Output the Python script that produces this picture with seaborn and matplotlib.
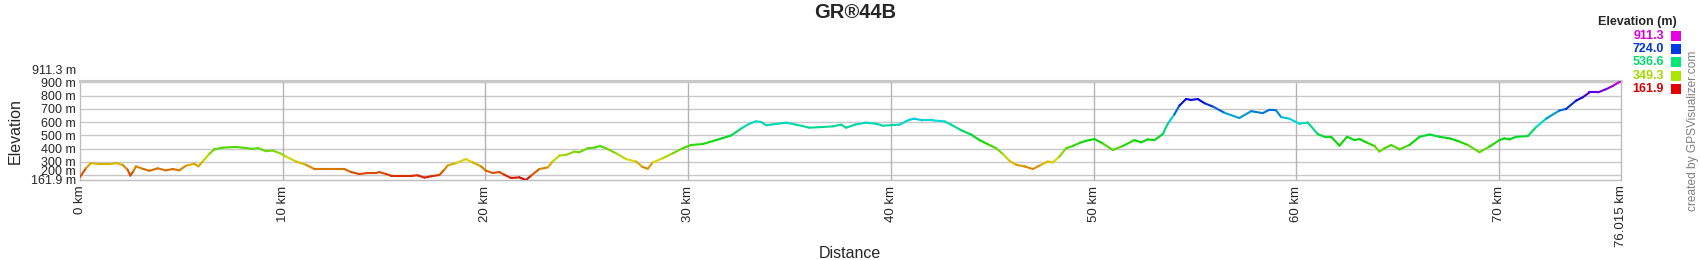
import numpy as np
import pandas as pd
import seaborn as sns
import matplotlib
matplotlib.use("Agg")
import matplotlib.pyplot as plt
from matplotlib.colors import hsv_to_rgb
from matplotlib.transforms import ScaledTranslation
from matplotlib.patches import Rectangle

# ---------------- data ----------------
title = "GR®44B"
distance_km = [0, 0.30, 0.54, 0.95, 1.45, 1.78, 2.1, 2.35, 2.48, 2.63, 2.76, 3.09, 3.42, 3.83, 4.24,
               4.57, 4.9, 5.23, 5.64, 5.84, 6.05, 6.38, 6.63, 7.04, 7.70, 8.19, 8.52, 8.77, 9.18, 9.51,
               9.87, 10.16, 10.66, 11.15, 11.56, 12.14, 13.04, 13.37, 13.78, 14.19, 14.6, 14.77, 15.1,
               15.34, 15.92, 16.41, 16.66, 16.99, 17.32, 17.73, 17.97, 18.14, 18.55, 19.04, 19.37,
               19.78, 20.03, 20.36, 20.69, 20.93, 21.26, 21.67, 22.0, 22.25, 22.66, 23.07, 23.32,
               23.65, 23.98, 24.39, 24.63, 25.05, 25.38, 25.65, 25.95, 26.44, 26.94, 27.43, 27.76,
               28.01, 28.25, 28.75, 29.24, 29.73, 30.14, 30.72, 31.38, 32.12, 32.61, 33.02, 33.35,
               33.6, 33.85, 34.18, 34.83, 35.32, 35.98, 36.64, 37.13, 37.54, 37.79, 38.28, 38.78,
               39.27, 39.6, 40.42, 40.91, 41.16, 41.57, 42.07, 42.64, 42.97, 43.46, 43.96, 44.37,
               44.86, 45.19, 45.52, 45.85, 46.18, 46.59, 47.0, 47.41, 47.74, 47.99, 48.31, 48.64,
               48.97, 49.33, 49.63, 50.04, 50.45, 50.95, 51.44, 52.01, 52.34, 52.67, 53.0, 53.41,
               53.66, 53.98, 54.23, 54.56, 54.81, 55.14, 55.47, 55.88, 56.45, 57.19, 57.77, 58.34,
               58.67, 59.0, 59.25, 59.66, 60.15, 60.57, 61.06, 61.39, 61.72, 62.13, 62.5, 62.87,
               63.12, 63.45, 63.86, 64.1, 64.35, 64.68, 65.09, 65.58, 66.08, 66.57, 67.06, 67.56,
               67.97, 68.46, 69.03, 69.52, 70.02, 70.26, 70.51, 70.84, 71.42, 71.83, 72.32, 72.98,
               73.31, 73.8, 74.13, 74.46, 74.88, 75.29, 75.62, 75.95, 76.015]
elevation_m = [185, 252, 290, 282, 282, 290, 277, 240, 195, 227, 265, 247, 232, 250, 235,
               245, 235, 270, 285, 265, 302, 360, 394, 407, 412, 404, 397, 404, 380, 385,
               364, 339, 302, 277, 245, 245, 245, 222, 207, 215, 215, 222, 207,
               195, 195, 195, 197, 180, 190, 200, 240, 272, 290, 320, 295,
               265, 232, 215, 222, 202, 177, 182, 161.9, 195, 245, 257, 302,
               347, 352, 377, 372, 402, 407, 419, 402, 364, 320, 302, 260,
               247, 295, 327, 364, 402, 427, 434, 464, 499, 551, 588, 606,
               601, 576, 583, 596, 581, 558, 563, 568, 581, 558, 583, 596,
               588, 573, 581, 618, 626, 613, 613, 606, 581, 539, 506, 464,
               427, 402, 360, 307, 277, 265, 245, 277, 302, 295, 339, 402,
               419, 444, 459, 472, 439, 389, 419, 464, 447, 469, 464, 509,
               588, 658, 725, 775, 768, 775, 743, 718, 671, 631, 683, 668,
               693, 690, 638, 626, 588, 596, 509, 489, 489, 422, 489, 464,
               472, 447, 419, 377, 402, 427, 394, 427, 489, 506, 489, 477,
               457, 427, 372, 414, 464, 477, 469, 489, 494, 563, 626, 688,
               700, 763, 788, 825, 825, 850, 875, 905, 911.3]

elev_min, elev_max = 161.9, 911.3
dist_max = 76.015
x_ticks = [0, 10, 20, 30, 40, 50, 60, 70, 76.015]
x_tick_labels = ["0 km", "10 km", "20 km", "30 km", "40 km", "50 km", "60 km", "70 km", "76.015 km"]
y_ticks = [161.9, 200, 300, 400, 500, 600, 700, 800, 900, 911.3]
y_tick_labels = ["161.9 m", "200 m", "300 m", "400 m", "500 m", "600 m", "700 m", "800 m", "900 m", "911.3 m"]
legend_values = [911.3, 724.0, 536.6, 349.3, 161.9]


def elev_color(e, v=0.85):
    h = (e - elev_min) / (elev_max - elev_min) * (300.0 / 360.0)
    return tuple(hsv_to_rgb((h, 1.0, v)))


# ---------------- style ----------------
sns.set_style("white")
plt.rcParams["font.family"] = ["Liberation Sans", "DejaVu Sans"]

fig = plt.figure(figsize=(17, 2.6), dpi=100)
ax = fig.add_axes([80 / 1700, 1 - 180 / 260, (1621 - 80) / 1700, (180 - 81) / 260])

# segment table: each consecutive pair of points is its own hue group
rows = []
palette = {}
for i in range(len(distance_km) - 1):
    mid = 0.5 * (elevation_m[i] + elevation_m[i + 1])
    palette[i] = elev_color(mid)
    rows.append((distance_km[i], elevation_m[i], i))
    rows.append((distance_km[i + 1], elevation_m[i + 1], i))
df = pd.DataFrame(rows, columns=["km", "elev", "seg"])

sns.lineplot(data=df, x="km", y="elev", hue="seg", palette=palette, legend=False,
             sort=False, estimator=None, linewidth=1.5, ax=ax, zorder=3)

ax.set_xlim(0, dist_max)
ax.set_ylim(elev_min, elev_max)

ax.set_xticks(x_ticks)
ax.set_xticklabels(x_tick_labels, rotation=90, fontsize=9.5)
ax.set_yticks(y_ticks)
ax.set_yticklabels(y_tick_labels, fontsize=9)
ax.tick_params(axis="both", length=0)
ax.tick_params(axis="x", pad=4)
ax.tick_params(axis="y", pad=3)

# nudge crowded y labels like the reference
nudges = {"911.3 m": 8, "200 m": 3.5, "161.9 m": 0.5}
for lab in ax.get_yticklabels():
    dy = nudges.get(lab.get_text(), 0)
    if dy:
        lab.set_transform(lab.get_transform() + ScaledTranslation(0, dy / 72, fig.dpi_scale_trans))

# grid
for yv in y_ticks[1:-1]:
    ax.axhline(yv, color="#c8c8c8", lw=1.0, zorder=1)
for xv in x_ticks[1:-1]:
    ax.axvline(xv, color="#b4b4b4", lw=1.0, zorder=1)

for side, sp in ax.spines.items():
    sp.set_color("#bdbdbd")
    sp.set_linewidth(1.0)
ax.spines["top"].set_linewidth(2.2)
ax.spines["top"].set_color("#c8c8c8")

ax.set_xlabel("")
ax.set_ylabel("")
fig.text(15 / 1700, 1 - 131 / 260, "Elevation", rotation=90, ha="center", va="center", fontsize=11.5)
fig.text(850 / 1700, 1 - 253 / 260, "Distance", ha="center", va="center", fontsize=11.5)
fig.text(855 / 1700, 1 - 13 / 260, title, ha="center", va="center", fontsize=14.5, fontweight="bold")

# legend
fig.text(1637 / 1700, 1 - 22 / 260, "Elevation (m)", ha="center", va="center", fontsize=9, fontweight="bold")
ys = [36, 49, 62.3, 75.7, 89]
for val, yp in zip(legend_values, ys):
    fig.text(1664 / 1700, 1 - yp / 260, f"{val:.1f}", ha="right", va="center", fontsize=9,
             fontweight="bold", color=elev_color(val, 0.85))
    fig.patches.append(Rectangle((1671 / 1700, 1 - (yp + 5) / 260), 10 / 1700, 10 / 260,
                                 transform=fig.transFigure, facecolor=elev_color(val, 0.9),
                                 edgecolor="none", figure=fig))

fig.text(1693 / 1700, 1 - 131 / 260, "created by GPSVisualizer.com", rotation=90, ha="center",
         va="center", fontsize=8.6, color="#808080")

fig.savefig("out.png", dpi=100)
